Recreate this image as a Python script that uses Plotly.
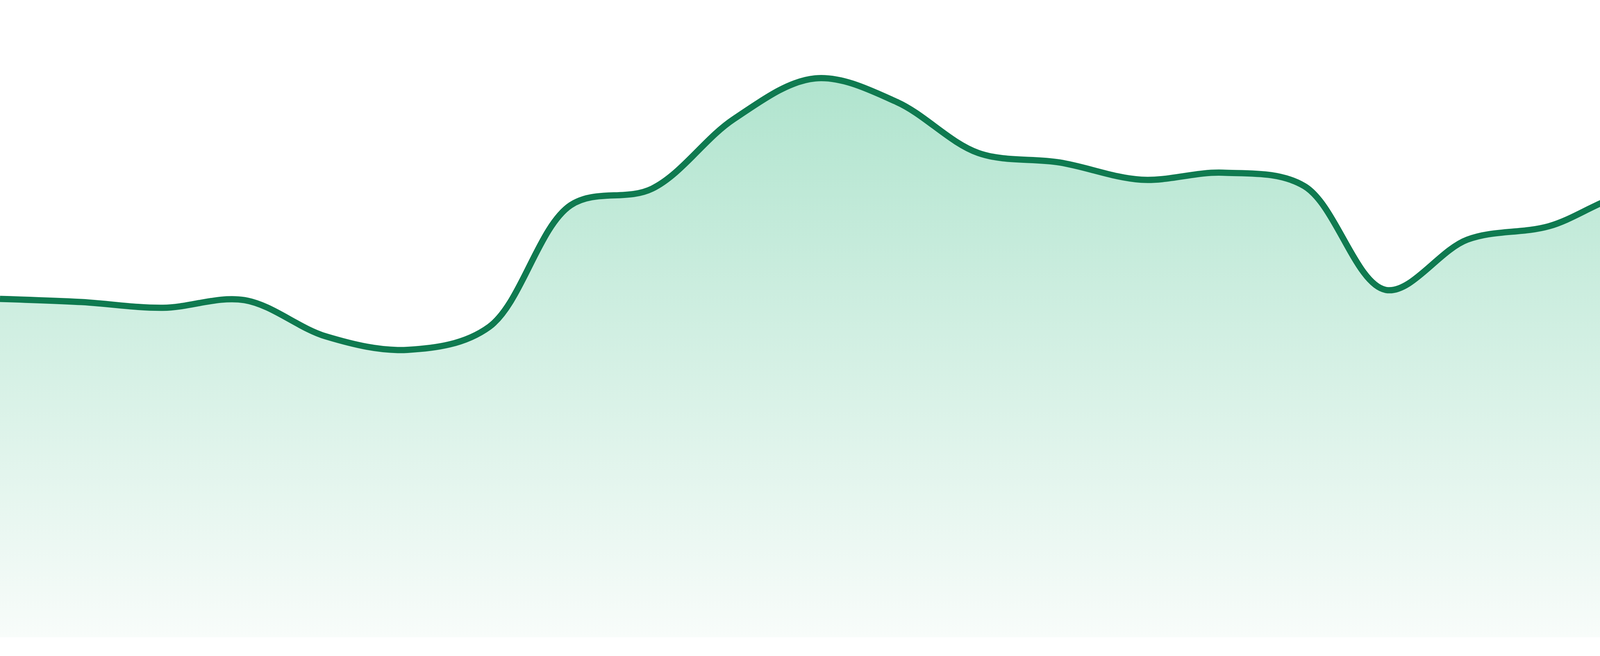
import plotly.graph_objects as go

# Série (24 points réguliers, échelle 0-100)
jours = list(range(24))
valeurs = [53.1, 52.6, 51.7, 52.9, 47.2, 45.1, 48.7, 67.8, 70.4, 81.3, 87.7, 84.0,
           76.0, 74.5, 71.8, 72.9, 70.8, 54.5, 62.4, 64.5, 69.6, 68.1, 70.4, 70.2]

couleur_ligne = "#0f7a50"

fig = go.Figure()
fig.add_trace(go.Scatter(
    x=jours,
    y=valeurs,
    mode="lines",
    line=dict(color=couleur_ligne, width=16, shape="spline", smoothing=1),
    fill="tozeroy",
    fillgradient=dict(
        type="vertical",
        colorscale=[[0, "#f8fcfa"], [1, "#b0e4ce"]],
        start=0,
        stop=88,
    ),
    hoverinfo="skip",
    showlegend=False,
))

fig.update_layout(
    width=4800,
    height=1680,
    margin=dict(l=0, r=0, t=0, b=48),
    paper_bgcolor="white",
    plot_bgcolor="white",
)
fig.update_xaxes(visible=False, range=[0, 23], showgrid=False, zeroline=False)
fig.update_yaxes(visible=False, range=[0, 100], showgrid=False, zeroline=False)

# pas de marge du navigateur autour du graphique
fig.write_html("out.html", post_script="document.body.style.margin='0';")
